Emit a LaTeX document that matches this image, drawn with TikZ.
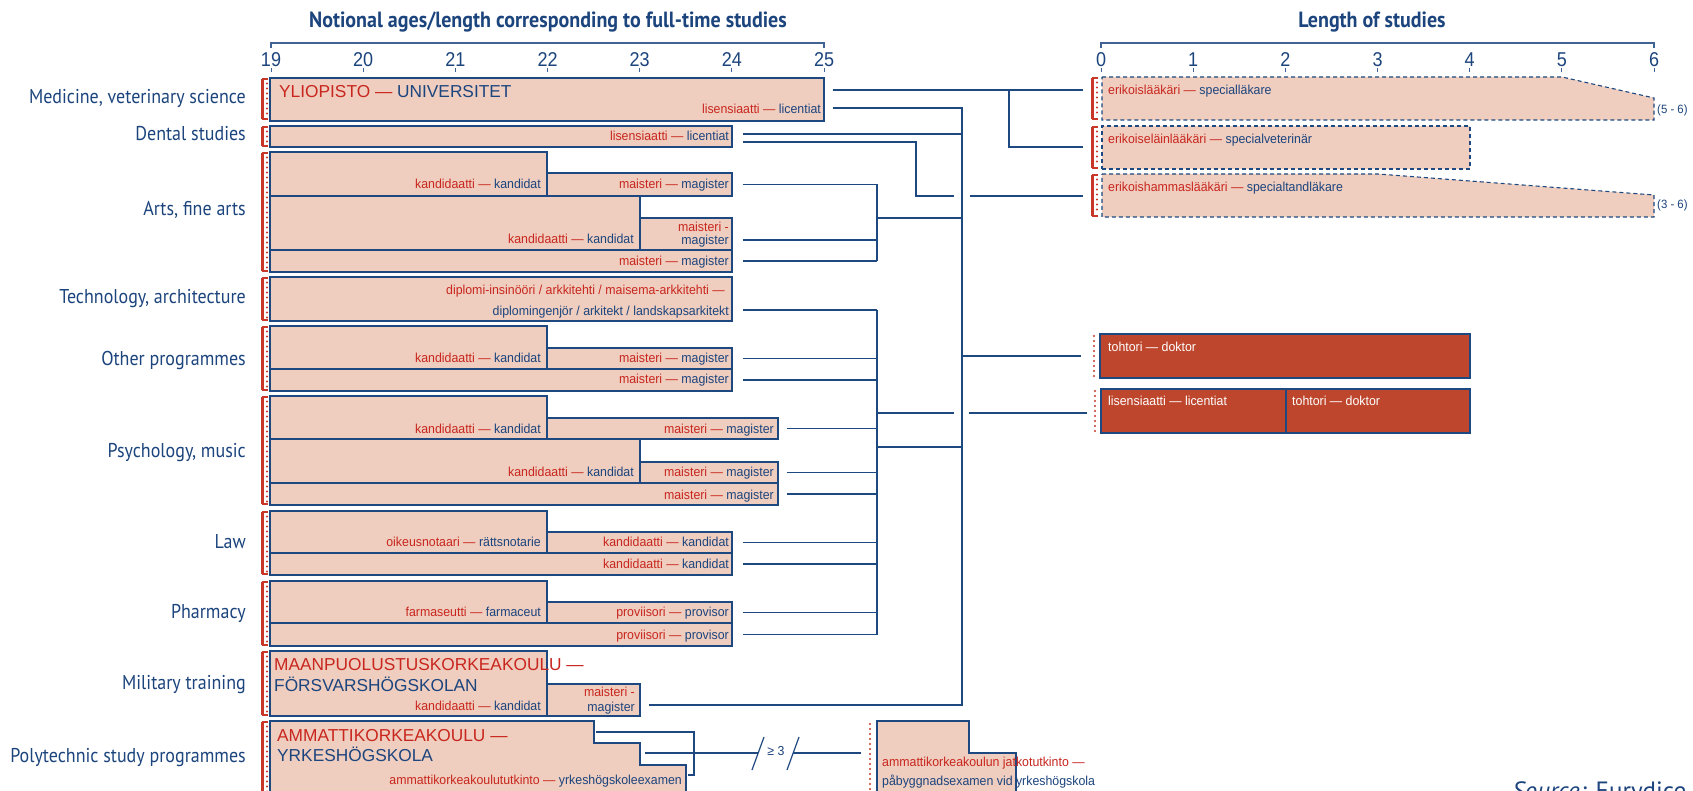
\documentclass[tikz,border=0pt]{standalone}
\usepackage{fontspec}
\setmainfont{Liberation Sans}
\newfontfamily\nar[FakeStretch=0.95]{Liberation Sans}
\newfontfamily\numf[FakeStretch=0.9]{Liberation Sans}
\newfontfamily\labf[FakeStretch=0.9]{PT Sans}
\newfontfamily\ttlf[FakeStretch=0.91]{PT Sans}
\newfontfamily\srcf{PT Sans}
\usetikzlibrary{fit,calc}
\definecolor{boxfill}{RGB}{239,206,191}
\definecolor{lb}{RGB}{30,72,128}
\definecolor{rt}{RGB}{200,38,30}
\definecolor{bt}{RGB}{28,68,125}
\definecolor{dr}{RGB}{190,70,45}
\definecolor{rb}{RGB}{200,55,40}
\newcommand\fsv[2]{\textcolor{rt}{#1 —} \textcolor{bt}{#2}}
\newcommand\rbar[3]{%
  \draw[rb, line width=3pt] ({#1-1},#2) -- ({#1-1},#3);
  \draw[rb, line width=1.3pt] ({#1-1},#2) -- ({#1+5},#2) ({#1-1},#3) -- ({#1+5},#3);
  \draw[reddots] ({#1+4},{#2+4.5}) -- ({#1+4},{#3-2});}
\tikzset{
  conn/.style={draw=lb, line width=1.5pt},
  box/.style={draw=lb, fill=boxfill, line width=1.2pt, inner sep=0pt, shape=rectangle},
  boxp/.style={draw=lb, fill=boxfill, line width=1.2pt},
  dsh/.style={dash pattern=on 4pt off 3pt, line width=1.1pt},
  docbox/.style={draw=lb, fill=dr, line width=1.2pt, inner sep=0pt, shape=rectangle},
  tx/.style={font=\nar\fontsize{13}{15}\selectfont, inner sep=0pt, text height=9.5pt, text depth=3pt},
  txe/.style={tx, anchor=east},
  txw/.style={tx, anchor=west},
  big/.style={font=\fontsize{17.3}{19}\selectfont, inner sep=0pt, anchor=west, text height=12.4pt, text depth=0pt},
  lab/.style={font=\labf\fontsize{20}{22}\selectfont, text=bt, anchor=east, inner sep=0pt, text height=14pt, text depth=0pt},
  num/.style={font=\numf\fontsize{20}{22}\selectfont, text=bt, inner sep=0pt, text height=14pt, text depth=0pt},
  ttl/.style={font=\ttlf\bfseries\fontsize{22}{24}\selectfont, text=bt, inner sep=0pt},
  axisl/.style={draw=lb!85, line width=1.3pt},
  reddots/.style={draw=rb, line width=2.3pt, line cap=round, dash pattern=on 0pt off 5pt},
}
\begin{document}
\begin{tikzpicture}[x=1pt,y=-1pt]
\useasboundingbox (0,0) rectangle (1693,791);
\clip (0,0) rectangle (1693,791);
\fill[white] (0,0) rectangle (1693,791);

% titles and axes
\node[ttl] (title1) at (548,22) {Notional ages/length corresponding to full-time studies};
\node[ttl] (title2) at (1372,22) {Length of studies};
\draw[axisl] (271,48) -- (271,43) -- (824,43) -- (824,48);
\draw[axisl] (1101,48) -- (1101,43) -- (1654,43) -- (1654,48);
\foreach \k/\v in {0/19,1/20,2/21,3/22,4/23,5/24,6/25} {
  \node[num] (ax\k) at ({271+92.17*\k},60) {\v};
  \draw[axisl, line width=1pt] ({271+92.17*\k},68) -- ({271+92.17*\k},72);
  \node[num] (bx\k) at ({1101+92.17*\k},60) {\k};
  \draw[axisl, line width=1pt] ({1101+92.17*\k},68) -- ({1101+92.17*\k},72);
}

% row labels
\node[lab] (Lmed) at (246,97) {Medicine, veterinary science};
\node[lab] (Ldent) at (246,134) {Dental studies};
\node[lab] (Larts) at (246,209) {Arts, fine arts};
\node[lab] (Ltech) at (246,297) {Technology, architecture};
\node[lab] (Loth) at (246,358) {Other programmes};
\node[lab] (Lpsy) at (246,450) {Psychology, music};
\node[lab] (Llaw) at (246,541) {Law};
\node[lab] (Lph) at (246,611) {Pharmacy};
\node[lab] (Lmil) at (246,682) {Military training};
\node[lab] (Lpoly) at (246,755) {Polytechnic study programmes};

% red bars
\rbar{263}{79}{119}
\rbar{263}{127}{146}
\rbar{263}{153}{271}
\rbar{263}{278}{320}
\rbar{263}{327}{390}
\rbar{263}{397}{504}
\rbar{263}{512}{574}
\rbar{263}{582}{645}
\rbar{263}{652}{715}
\rbar{263}{722}{795}
\rbar{1093}{78}{119}
\rbar{1093}{127}{168}
\rbar{1093}{175}{216}
\draw[reddots] (1094,336) -- (1094,378);
\draw[reddots] (1095,391) -- (1095,433);
\draw[reddots] (870,724) -- (870,795);

% boxes
\node[box, fit={(270,78) (824,121)}] (med) {};
\node[box, fit={(270,126) (732,147)}] (dent) {};
\node[box, fit={(270,152) (547,196)}] (a1) {};
\node[box, fit={(547,173) (732,196)}] (a2) {};
\node[box, fit={(270,196) (640,250)}] (a3) {};
\node[box, fit={(640,218) (732,250)}] (a4) {};
\node[box, fit={(270,250) (732,272)}] (a5) {};
\node[box, fit={(270,277) (732,321)}] (tech) {};
\node[box, fit={(270,326) (547,369)}] (o1) {};
\node[box, fit={(547,348) (732,369)}] (o2) {};
\node[box, fit={(270,369) (732,391)}] (o3) {};
\node[box, fit={(270,396) (547,439)}] (p1) {};
\node[box, fit={(547,418) (778,439)}] (p2) {};
\node[box, fit={(270,439) (640,483)}] (p3) {};
\node[box, fit={(640,462) (778,483)}] (p4) {};
\node[box, fit={(270,483) (778,505)}] (p5) {};
\node[box, fit={(270,511) (547,553)}] (l1) {};
\node[box, fit={(547,532) (732,553)}] (l2) {};
\node[box, fit={(270,553) (732,575)}] (l3) {};
\node[box, fit={(270,581) (547,623)}] (ph1) {};
\node[box, fit={(547,602) (732,623)}] (ph2) {};
\node[box, fit={(270,623) (732,646)}] (ph3) {};
\node[box, fit={(270,651) (547,716)}] (m1) {};
\node[box, fit={(547,684) (640,716)}] (m2) {};
\draw[boxp] (270,721) -- (594,721) -- (594,743) -- (640,743) -- (640,765) -- (686,765) -- (686,800) -- (270,800) -- cycle;
\draw[boxp] (877,721) -- (969,721) -- (969,753) -- (1016,753) -- (1016,800) -- (877,800) -- cycle;

% right boxes
\draw[boxp, dsh] (1102,77) -- (1562,77) -- (1654,98) -- (1654,120) -- (1102,120) -- cycle;
\node[box, dsh, fit={(1102,126) (1470,169)}] (sp2) {};
\draw[boxp, dsh] (1102,174) -- (1378,174) -- (1654,195) -- (1654,217) -- (1102,217) -- cycle;
\node[docbox, fit={(1100,334) (1470,378)}] (doc1) {};
\node[docbox, fit={(1101,389) (1286,433)}] (doc2a) {};
\node[docbox, fit={(1286,389) (1470,433)}] (doc2b) {};

% texts in boxes
\node[big] (tmed1) at (279,91) {\textcolor{rt}{YLIOPISTO —} \textcolor{bt}{UNIVERSITET}};
\node[txe] (tmed2) at (821,110) {\fsv{lisensiaatti}{licentiat}};
\node[txe] (tdent) at (729,137) {\fsv{lisensiaatti}{licentiat}};
\node[txe] (ta1) at (541,185) {\fsv{kandidaatti}{kandidat}};
\node[txe] (ta2) at (729,185) {\fsv{maisteri}{magister}};
\node[txe] (ta3) at (634,240) {\fsv{kandidaatti}{kandidat}};
\node[txe, text=rt] (ta4a) at (729,228) {maisteri -};
\node[txe, text=bt] (ta4b) at (729,241) {magister};
\node[txe] (ta5) at (729,262) {\fsv{maisteri}{magister}};
\node[txe, text=rt] (ttech1) at (725,291) {diplomi-insinööri / arkkitehti / maisema-arkkitehti —};
\node[txe, text=bt] (ttech2) at (729,312) {diplomingenjör / arkitekt / landskapsarkitekt};
\node[txe] (to1) at (541,359) {\fsv{kandidaatti}{kandidat}};
\node[txe] (to2) at (729,359) {\fsv{maisteri}{magister}};
\node[txe] (to3) at (729,380) {\fsv{maisteri}{magister}};
\node[txe] (tp1) at (541,430) {\fsv{kandidaatti}{kandidat}};
\node[txe] (tp2) at (774,430) {\fsv{maisteri}{magister}};
\node[txe] (tp3) at (634,473) {\fsv{kandidaatti}{kandidat}};
\node[txe] (tp4) at (774,473) {\fsv{maisteri}{magister}};
\node[txe] (tp5) at (774,496) {\fsv{maisteri}{magister}};
\node[txe] (tl1) at (541,543) {\fsv{oikeusnotaari}{rättsnotarie}};
\node[txe] (tl2) at (729,543) {\fsv{kandidaatti}{kandidat}};
\node[txe] (tl3) at (729,565) {\fsv{kandidaatti}{kandidat}};
\node[txe] (tph1) at (541,613) {\fsv{farmaseutti}{farmaceut}};
\node[txe] (tph2) at (729,613) {\fsv{proviisori}{provisor}};
\node[txe] (tph3) at (729,636) {\fsv{proviisori}{provisor}};
\node[big, text=rt] (tm1) at (274,664) {MAANPUOLUSTUSKORKEAKOULU —};
\node[big, text=bt] (tm2) at (274,685) {FÖRSVARSHÖGSKOLAN};
\node[txe] (tm3) at (541,707) {\fsv{kandidaatti}{kandidat}};
\node[txe, text=rt] (tm4) at (635,693) {maisteri -};
\node[txe, text=bt] (tm5) at (635,708) {magister};
\node[big, text=rt] (tpo1) at (277,735) {AMMATTIKORKEAKOULU —};
\node[big, text=bt] (tpo2) at (277,755) {YRKESHÖGSKOLA};
\node[txe] (tpo3) at (682,781) {\fsv{ammattikorkeakoulututkinto}{yrkeshögskoleexamen}};
\node[txw, text=rt] (tpg1) at (882,763) {ammattikorkeakoulun jatkotutkinto —};
\node[txw, text=bt] (tpg2) at (882,782) {påbyggnadsexamen vid yrkeshögskola};
\node[txw] (tsp1) at (1108,91) {\fsv{erikoislääkäri}{specialläkare}};
\node[txw] (tsp2) at (1108,140) {\fsv{erikoiseläinlääkäri}{specialveterinär}};
\node[txw] (tsp3) at (1108,188) {\fsv{erikoishammaslääkäri}{specialtandläkare}};
\node[txw, text=bt, font=\nar\fontsize{12}{14}\selectfont] (r56) at (1657,110) {(5 - 6)};
\node[txw, text=bt, font=\nar\fontsize{12}{14}\selectfont] (r36) at (1657,205) {(3 - 6)};
\node[txw, text=white] (tdoc1) at (1108,348) {tohtori — doktor};
\node[txw, text=white] (tdoc2) at (1108,402) {lisensiaatti — licentiat};
\node[txw, text=white] (tdoc3) at (1292,402) {tohtori — doktor};
\node[tx, text=bt] (ge3) at (776,752) {≥ 3};
\node[font=\srcf\fontsize{25}{27}\selectfont, text=bt, anchor=base west, inner sep=0pt] (src) at (1512,799) {\textit{Source:} Eurydice};

% connector coordinates
\coordinate (sp1in) at (1083,90);
\coordinate (sp2in) at (1083,147);
\coordinate (sp3in) at (1083,196);
\coordinate (doc1in) at (1081,356);
\coordinate (doc2in) at (1087,413);
\coordinate (mj) at (1009,90);
\coordinate (tb) at (962,705);
\coordinate (dj) at (916,196);
\coordinate (g1a) at (954,196);
\coordinate (g1b) at (970,196);
\coordinate (va) at (877,218);
\coordinate (vb1) at (877,413);
\coordinate (vb2) at (877,447);
\coordinate (g2a) at (954,413);
\coordinate (g2b) at (969,413);

% connectors
\draw[conn] ([xshift=8pt,yshift=9.5pt]med.east) -- (sp1in);
\draw[conn] (mj) |- (sp2in);
\draw[conn] ([xshift=8pt,yshift=-8.5pt]med.east) -| (tb) -- ([xshift=8pt,yshift=-5pt]m2.east);
\draw[conn] ([xshift=10pt,yshift=2.5pt]dent.east) coordinate (d1) -- (d1 -| tb);
\draw[conn] ([xshift=10pt,yshift=-5.5pt]dent.east) -| (dj) -- (g1a);
\draw[conn] (g1b) -- (sp3in);
\draw[conn] ([xshift=10pt]a2.east) coordinate (s1) -- (s1 -| va);
\draw[conn] ([xshift=10pt,yshift=-6pt]a4.east) coordinate (s2) -- (s2 -| va);
\draw[conn] ([xshift=10pt]a5.east) coordinate (s3) -- (s3 -| va);
\draw[conn] (s1 -| va) -- (s3 -| va);
\draw[conn] (va) -- (va -| tb);
\draw[conn] ([xshift=10pt,yshift=-11pt]tech.east) coordinate (s4) -- (s4 -| va);
\draw[conn] ([xshift=10pt]o2.east) coordinate (s5) -- (s5 -| va);
\draw[conn] ([xshift=10pt]o3.east) coordinate (s6) -- (s6 -| va);
\draw[conn] ([xshift=8pt]p2.east) coordinate (s7) -- (s7 -| va);
\draw[conn] ([xshift=8pt]p4.east) coordinate (s8) -- (s8 -| va);
\draw[conn] ([xshift=8pt]p5.east) coordinate (s9) -- (s9 -| va);
\draw[conn] ([xshift=10pt]l2.east) coordinate (s10) -- (s10 -| va);
\draw[conn] ([xshift=10pt]l3.east) coordinate (s11) -- (s11 -| va);
\draw[conn] ([xshift=10pt]ph2.east) coordinate (s12) -- (s12 -| va);
\draw[conn] ([xshift=10pt]ph3.east) coordinate (s13) -- (s13 -| va);
\draw[conn] (s4 -| va) -- (s13 -| va);
\draw[conn] (vb1) -- (g2a);
\draw[conn] (g2b) -- (doc2in);
\draw[conn] (vb2) -- (vb2 -| tb);
\draw[conn] (doc1in -| tb) -- (doc1in);

% polytechnic connectors
\coordinate (pa) at (596,732);
\coordinate (pk1) at (694,732);
\coordinate (pk2) at (694,775);
\coordinate (pk3) at (688,775);
\coordinate (pb) at (645,753);
\coordinate (pbr1) at (758,753);
\coordinate (pbr2) at (793,753);
\coordinate (pgin) at (861,753);
\draw[conn] (pa) -- (pk1) -- (pk2) -- (pk3);
\draw[conn] (pb) -- (pbr1);
\draw[conn] (pbr2) -- (pgin);
\draw[lb, line width=1.2pt] (752,770) -- (764,737) (787,770) -- (799,737);
\end{tikzpicture}
\end{document}
